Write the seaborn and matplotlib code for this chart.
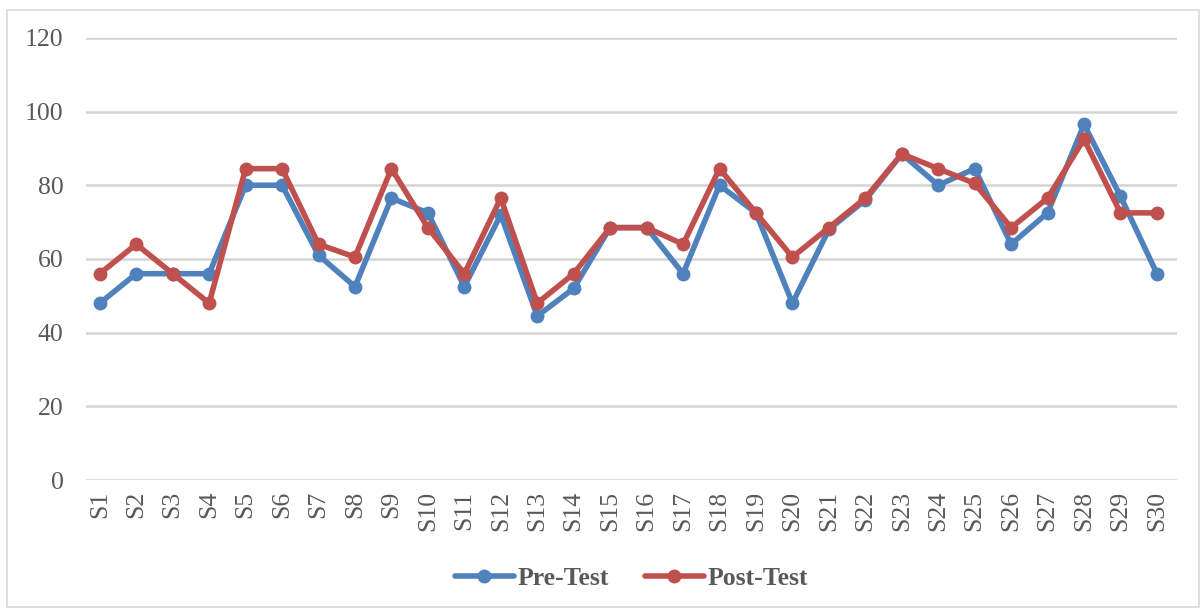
import pandas as pd
import matplotlib.pyplot as plt
import seaborn as sns
from matplotlib.patches import Rectangle

students = [f"S{i}" for i in range(1, 31)]
pre_test = [48, 56, 56, 56, 80, 80, 61, 52.5, 76.5, 72.5,
            52.5, 72, 44.5, 52, 68.5, 68.5, 56, 80, 72.5, 48,
            68, 76, 88.5, 80, 84.5, 64, 72.5, 96.5, 77, 56]
post_test = [56, 64, 56, 48, 84.5, 84.5, 64, 60.5, 84.5, 68.5,
             56, 76.5, 48, 56, 68.5, 68.5, 64, 84.5, 72.5, 60.5,
             68.5, 76.5, 88.5, 84.5, 80.5, 68.5, 76.5, 92.5, 72.5, 72.5]
series = ["Pre-Test", "Post-Test"]
colors = ["#4F81BD", "#C0504D"]

df = pd.DataFrame({"Student": students, "Pre-Test": pre_test, "Post-Test": post_test})
long_df = df.melt(id_vars="Student", var_name="Test", value_name="Score")

sns.set_style("white")
plt.rcParams["font.family"] = ["Liberation Serif", "DejaVu Serif"]

fig = plt.figure(figsize=(12.02, 6.10), dpi=100)
ax = fig.add_axes([0.0715, 0.213, 0.9077, 0.725])

sns.lineplot(data=long_df, x="Student", y="Score", hue="Test", hue_order=series,
             palette=colors, marker="o", markersize=10, markeredgewidth=0,
             linewidth=4, sort=False, ax=ax)

ax.set_ylim(0, 120)
ax.set_yticks(range(0, 121, 20))
ax.set_xlim(-0.38, len(students) - 0.45)
ax.grid(axis="y", color="#D4D4D4", linewidth=1.8)
ax.set_axisbelow(True)
for side in ["top", "right", "left", "bottom"]:
    ax.spines[side].set_visible(False)
ax.tick_params(axis="both", length=0, labelsize=18.5, colors="#595959")
ax.tick_params(axis="y", pad=16)
ax.tick_params(axis="x", labelrotation=90, pad=8)
ax.set_xlabel("")
ax.set_ylabel("")

handles, labels = ax.get_legend_handles_labels()
ax.legend(handles, labels, loc="upper center", bbox_to_anchor=(0.5, -0.145),
          ncol=2, frameon=False, handlelength=2.3, handletextpad=0.15,
          columnspacing=1.4, prop={"weight": "bold", "size": 18.5},
          labelcolor="#595959")

fig.patches.append(Rectangle((7 / 1202, 3 / 610), 1192 / 1202, 597 / 610,
                             transform=fig.transFigure, fill=False,
                             edgecolor="#D9D9D9", linewidth=1.2))

fig.savefig("out.png", dpi=100)
